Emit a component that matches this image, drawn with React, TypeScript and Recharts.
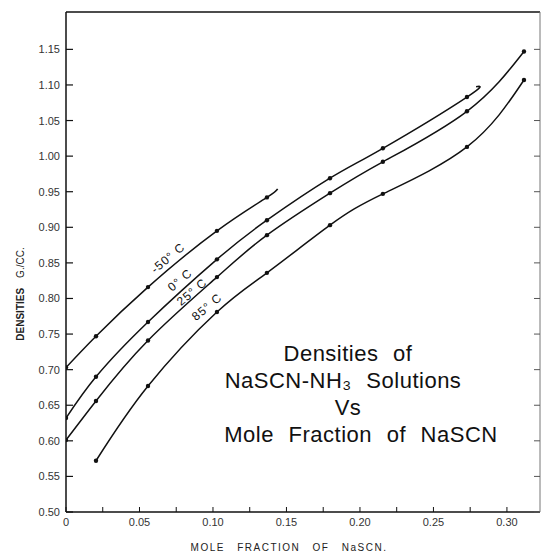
import { LineChart, Line, XAxis, YAxis } from "recharts";

// mole fraction of NaSCN where densities were measured
const moleFraction = [0, 0.0204, 0.0558, 0.1027, 0.1367, 0.1796, 0.2156, 0.2728, 0.3116];

// densities g/cc at each mole fraction (null = not measured)
const densM50 = [0.703, 0.747, 0.816, 0.895, 0.942, null, null, null, null];
const dens0 = [0.632, 0.69, 0.767, 0.855, 0.91, 0.969, 1.011, 1.083, null];
const dens25 = [0.601, 0.656, 0.741, 0.83, 0.889, 0.948, 0.992, 1.063, 1.147];
const dens85 = [null, 0.572, 0.677, 0.781, 0.836, 0.903, 0.947, 1.013, 1.107];

// the hand drawn curves for -50 and 0 run a little past the last point
const curveEndX = [0.144, 0.279, null, null];
const curveEndY = [0.954, 1.0975, null, null];

const temps = ["-50° C", "0° C", "25° C", "85° C"];

const xTicks = [0, 0.025, 0.05, 0.075, 0.1, 0.125, 0.15, 0.175, 0.2, 0.225, 0.25, 0.275, 0.3];
const xTickLabels = ["0", "", "0.05", "", "0.10", "", "0.15", "", "0.20", "", "0.25", "", "0.30"];
const yTicks = [0.5, 0.55, 0.6, 0.65, 0.7, 0.75, 0.8, 0.85, 0.9, 0.95, 1.0, 1.05, 1.1, 1.15];
const yTickLabels = ["0.50", "0.55", "0.60", "0.65", "0.70", "0.75", "0.80", "0.85", "0.90", "0.95", "1.00", "1.05", "1.10", "1.15"];

const titleLines = ["Densities of", "NaSCN-NH₃ Solutions", "Vs", "Mole Fraction of NaSCN"];

const INK = "#111";
const FONT = "'Liberation Sans', Arial, sans-serif";

function buildSeries(vals: (number | null)[], i: number) {
  const pts: { x: number; y: number; m: boolean }[] = [];
  moleFraction.forEach((x, j) => {
    const v = vals[j];
    if (v != null) pts.push({ x, y: v, m: true });
  });
  const ex = curveEndX[i];
  const ey = curveEndY[i];
  if (ex != null && ey != null) pts.push({ x: ex, y: ey, m: false });
  return pts;
}

const series = [densM50, dens0, dens25, dens85].map((v, i) => buildSeries(v, i));

const renderDot = (p: any) => {
  if (!p.payload || !p.payload.m) return <g key={`n${p.index}`} />;
  return <circle key={`d${p.index}`} cx={p.cx} cy={p.cy} r={2.2} fill={INK} stroke="none" />;
};

const BottomTick = (p: any) => {
  const label = xTickLabels[p.index] || "";
  return (
    <g>
      <line x1={p.x} x2={p.x} y1={p.y} y2={p.y - 5} stroke={INK} strokeWidth={1} />
      {label && (
        <text x={p.x} y={p.y + 14} textAnchor="middle" fontSize={11} fill="#333" fontFamily={FONT}>
          {label}
        </text>
      )}
    </g>
  );
};

const TopTick = (p: any) => (
  <line x1={p.x} x2={p.x} y1={p.y} y2={p.y + 5} stroke={INK} strokeWidth={1} />
);

const LeftTick = (p: any) => (
  <g>
    <line x1={p.x} x2={p.x + 7} y1={p.y} y2={p.y} stroke={INK} strokeWidth={1.2} />
    <text x={p.x - 6} y={p.y + 4} textAnchor="end" fontSize={11} fill="#333" fontFamily={FONT}>
      {yTickLabels[p.index]}
    </text>
  </g>
);

const RightTick = (p: any) => (
  <line x1={p.x} x2={p.x - 6} y1={p.y} y2={p.y} stroke="#555" strokeWidth={1} />
);

// label positions along the curves (px)
const tempLabelPos = [
  [168, 258],
  [180, 280],
  [192, 292],
  [207, 307],
];
const titleCenters = [348, 343, 348, 361];
const titleBaselines = [361, 388, 415, 442];

export default function App() {
  return (
    <div style={{ position: "absolute", left: 0, top: 0, width: 542, height: 553, background: "#fff" }}>
      <LineChart width={542} height={553} margin={{ top: 11, right: 1, bottom: 40, left: 0 }}>
        <XAxis
          dataKey="x"
          type="number"
          domain={[0, 0.3225]}
          ticks={xTicks}
          interval={0}
          allowDataOverflow
          height={1}
          tickSize={0}
          tickMargin={0}
          tickLine={false}
          axisLine={{ stroke: INK, strokeWidth: 1.3 }}
          tick={<BottomTick />}
        />
        <XAxis
          xAxisId="top"
          orientation="top"
          type="number"
          domain={[0, 0.3225]}
          ticks={xTicks}
          interval={0}
          allowDataOverflow
          height={1}
          tickSize={0}
          tickMargin={0}
          tickLine={false}
          axisLine={{ stroke: INK, strokeWidth: 1.5 }}
          tick={<TopTick />}
        />
        <YAxis
          type="number"
          domain={[0.5, 1.2025]}
          ticks={yTicks}
          interval={0}
          allowDataOverflow
          width={66}
          tickSize={0}
          tickMargin={0}
          tickLine={false}
          axisLine={{ stroke: INK, strokeWidth: 1.5 }}
          tick={<LeftTick />}
        />
        <YAxis
          yAxisId="right"
          orientation="right"
          type="number"
          domain={[0.5, 1.2025]}
          ticks={yTicks}
          interval={0}
          allowDataOverflow
          width={1}
          tickSize={0}
          tickMargin={0}
          tickLine={false}
          axisLine={{ stroke: "#777", strokeWidth: 1 }}
          tick={<RightTick />}
        />
        {series.map((pts, i) => (
          <Line
            key={temps[i]}
            data={pts}
            dataKey="y"
            type="natural"
            stroke={INK}
            strokeWidth={1.5}
            dot={renderDot}
            activeDot={false}
            isAnimationActive={false}
          />
        ))}
      </LineChart>
      <svg
        width={542}
        height={553}
        style={{ position: "absolute", left: 0, top: 0, pointerEvents: "none" }}
        fontFamily={FONT}
      >
        {temps.map((t, i) => (
          <text
            key={t}
            x={tempLabelPos[i][0]}
            y={tempLabelPos[i][1]}
            textAnchor="middle"
            dominantBaseline="central"
            fontSize={12}
            letterSpacing={1}
            fill={INK}
            transform={`rotate(-40 ${tempLabelPos[i][0]} ${tempLabelPos[i][1]})`}
          >
            {t}
          </text>
        ))}
        {titleLines.map((t, i) => (
          <text
            key={t}
            x={titleCenters[i]}
            y={titleBaselines[i]}
            textAnchor="middle"
            fontSize={22}
            letterSpacing={0.5}
            wordSpacing={8}
            fill={INK}
          >
            {t}
          </text>
        ))}
        <text
          x={20}
          y={294}
          textAnchor="middle"
          dominantBaseline="central"
          fontSize={10}
          fill="#222"
          transform="rotate(-90 20 294)"
        >
          <tspan fontWeight="bold">DENSITIES</tspan>
          <tspan dx={10}>G./CC.</tspan>
        </text>
        <text
          x={289}
          y={551}
          textAnchor="middle"
          fontSize={10}
          letterSpacing={1.5}
          wordSpacing={8}
          fill="#222"
        >
          MOLE FRACTION OF NaSCN.
        </text>
      </svg>
    </div>
  );
}
